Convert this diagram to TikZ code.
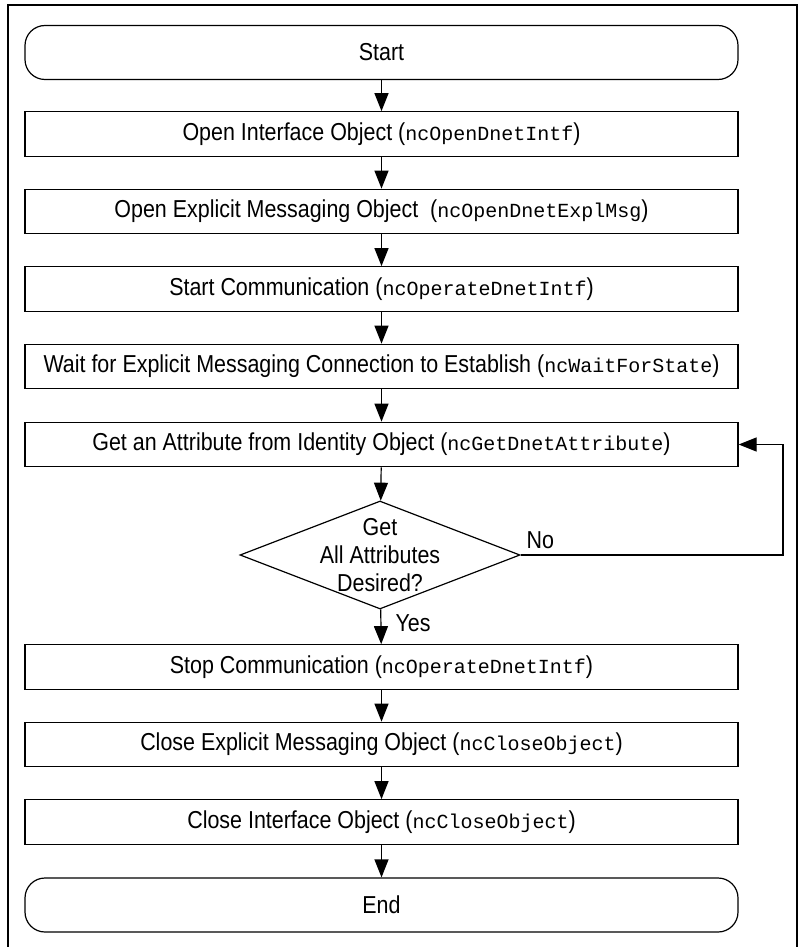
\documentclass[tikz,border=0pt]{standalone}
\usepackage{fontspec}
\setmainfont{Liberation Sans}[FakeStretch=0.875]
\setmonofont{Liberation Mono}
\usepackage{tikz}
\usetikzlibrary{shapes.geometric,arrows.meta}
\newcommand{\fcall}[1]{{\fontsize{20}{24}\selectfont\ttfamily #1}}

\begin{document}
\begin{tikzpicture}[x=1pt, y=-1pt,
            every node/.style={font=\fontsize{24.5}{28}\selectfont},
            box/.style={draw, line width=1.2pt, rectangle, minimum width=713pt, minimum height=44.5pt, inner sep=0pt},
            term/.style={box, rounded corners=20pt, minimum height=54pt},
            decision/.style={draw, line width=1.2pt, diamond, aspect=2.6, minimum width=280pt, minimum height=108pt, inner sep=-30pt, align=center},
            arr/.style={line width=1.2pt, -{Triangle[length=18pt, width=14pt]}}]
            \useasboundingbox (0,0) rectangle (800,947);
            \draw[line width=2.5pt]  (8,947) -- (8,5) -- (797,5) -- (797,947);

            \node[term] (start) at (381.5, 52.5) {Start};
            \node[box] (openintf) at (381.5, 134) {Open Interface Object (\fcall{ncOpenDnetIntf})};
            \node[box] (openexpl) at (381.5, 211.5) {Open Explicit Messaging Object~ (\fcall{ncOpenDnetExplMsg})};
            \node[box] (startcomm) at (381.5, 289) {Start Communication (\fcall{ncOperateDnetIntf})};
            \node[box] (waitconn) at (381.5, 366.5) {Wait for Explicit Messaging Connection to Establish (\fcall{ncWaitForState})};
            \node[box] (getattr) at (381.5, 444.5) {Get an Attribute from Identity Object (\fcall{ncGetDnetAttribute})};
            \node[decision] (alldone) at (380, 555) {Get\\All Attributes\\Desired?};
            \node[box] (stopcomm) at (381.5, 667) {Stop Communication (\fcall{ncOperateDnetIntf})};
            \node[box] (closeexpl) at (381.5, 744.5) {Close Explicit Messaging Object (\fcall{ncCloseObject})};
            \node[box] (closeintf) at (381.5, 822) {Close Interface Object (\fcall{ncCloseObject})};
            \node[term] (end) at (381.5, 905) {End};

            \node[anchor=west] (no) at (523, 540) {No};
            \node[anchor=west] (yes) at (392, 623) {Yes};
            \coordinate (loop) at (783, 555);

            \draw[arr]  (start) -- (openintf);
            \draw[arr]  (openintf) -- (openexpl);
            \draw[arr]  (openexpl) -- (startcomm);
            \draw[arr]  (startcomm) -- (waitconn);
            \draw[arr]  (waitconn) -- (getattr);
            \draw[arr]  (getattr) -- (alldone);
            \draw[arr]  (alldone) -- (stopcomm);
            \draw[arr]  (alldone.east) -- (loop) |- (getattr.east);
            \draw[arr]  (stopcomm) -- (closeexpl);
            \draw[arr]  (closeexpl) -- (closeintf);
            \draw[arr]  (closeintf) -- (end);
        \end{tikzpicture}
\end{document}
